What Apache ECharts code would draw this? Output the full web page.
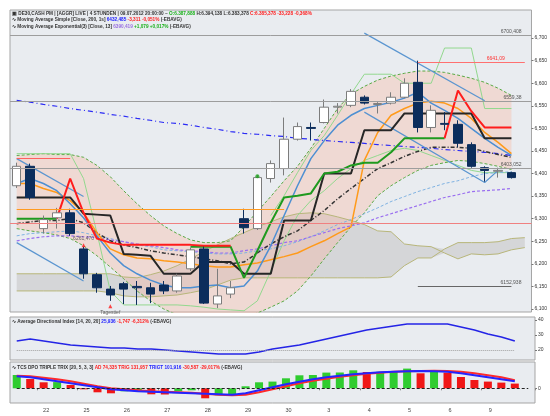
<!DOCTYPE html>
<html>
<head>
<meta charset="utf-8">
<script src="https://cdn.jsdelivr.net/npm/echarts@6.0.0/dist/echarts.min.js"></script>
<style>
html, body { margin: 0; padding: 0; background: #fff; }
#main { width: 550px; height: 416px; }
</style>
</head>
<body>
<div id="main"></div>
<script>
// candles (3 per trading day)
var opens  = [6373,6416,6278,6302,6313,6233,6176,6144,6156,6150,6147,6153,6140,6189,6233,6111,6133,6300,6278,6389,6411,6476,6502,6513,6547,6551,6569,6553,6556,6569,6602,6502,6511,6509,6464,6413,6405,6402];
var closes = [6416,6347,6298,6313,6267,6178,6147,6131,6144,6147,6133,6140,6173,6231,6113,6129,6147,6280,6391,6422,6476,6504,6500,6547,6549,6582,6556,6555,6569,6600,6502,6540,6509,6467,6416,6407,6407,6391];
var lows   = [6368,6342,6267,6278,6262,6167,6136,6118,6111,6109,6113,6133,6136,6184,6111,6102,6124,6267,6275,6380,6396,6473,6473,6511,6533,6547,6553,6533,6553,6567,6491,6491,6496,6458,6413,6382,6391,6389];
var highs  = [6424,6422,6307,6324,6322,6238,6180,6151,6160,6162,6158,6162,6178,6236,6238,6189,6162,6322,6396,6429,6524,6513,6513,6564,6556,6587,6573,6558,6580,6611,6650,6551,6536,6518,6469,6416,6413,6404];

// day labels under the bottom panel
var dayTicks = ['22','25','26','27','28','29','30','3','4','5','6','9'];
var priceTicks = [6100,6150,6200,6250,6300,6350,6400,6450,6500,6550,6600,6650,6700];

// envelope (pink band)
var bandUpper = [6440,6442,6444,6442,6442,6436,6418,6393,6362,6333,6307,6284,6267,6253,6247,6247,6251,6282,6316,6349,6384,6416,6456,6500,6544,6576,6593,6607,6616,6622,6627,6627,6624,6618,6611,6602,6589,6573];
var bandLower = [6278,6273,6269,6264,6256,6240,6218,6193,6167,6140,6118,6100,6087,6078,6073,6073,6078,6082,6091,6104,6118,6140,6173,6211,6247,6282,6313,6351,6373,6391,6407,6418,6424,6429,6427,6422,6416,6409];

// cloud, drawn 1 slot past the last candle
var cloudA = [6178,6178,6178,6178,6178,6178,6178,6178,6171,6169,6176,6184,6196,6211,6227,6242,6256,6269,6282,6293,6304,6311,6313,6311,6304,6296,6287,6273,6271,6244,6240,6238,6224,6211,6222,6220,6222,6231,6236];
var cloudB = [6140,6140,6140,6140,6140,6140,6140,6136,6129,6127,6127,6129,6131,6136,6142,6153,6164,6169,6169,6169,6169,6169,6169,6169,6169,6169,6169,6169,6171,6196,6213,6213,6233,6247,6247,6247,6249,6256,6258];

// indicator lines
var stopRed   = [null,null,null,6300,6389,6313,6256,6247,6242,6242,6242,6242,6242,6242,6240,6240,6240,null,null,null,null,null,null,null,null,null,null,null,null,null,null,null,6478,6584,6538,6502,6502,6502];
var stopGreen = [6300,6300,6300,6300,null,null,null,null,null,null,null,null,null,6238,6238,6238,6238,6169,6229,6291,6347,6351,6356,6400,6404,6418,6424,6424,6447,6478,6478,6478,6478,null,null,null,null,null];
var midBlack  = [6347,6347,6347,6347,6347,6311,6309,6307,6222,6220,6218,6178,6178,6178,6204,6204,6204,6178,6178,6178,6296,6296,6296,6400,6400,6400,6496,6496,6496,6533,6533,6533,6533,6533,6533,6478,6478,6478];
var maBlue    = [6378,6389,6378,6362,6333,6302,6262,6224,6196,6178,6164,6153,6147,6147,6151,6153,6147,6151,6184,6240,6307,6373,6433,6473,6507,6529,6544,6551,6558,6567,6580,6556,6540,6522,6500,6478,6458,6440];
var maOrange  = [6378,6378,6367,6358,6340,6313,6269,6233,6220,6213,6211,6207,6204,6200,6196,6193,6193,6198,6202,6209,6216,6224,6238,6251,6267,6282,6429,6491,6529,6544,6556,6560,6556,6544,6522,6491,6469,6444];
var maDashDot = [6289,6293,6296,6296,6300,6291,6269,6251,6242,6236,6229,6224,6220,6216,6211,6207,6200,6204,6224,6244,6260,6273,6296,6318,6344,6367,6389,6411,6424,6438,6449,6458,6458,6458,6456,6449,6442,6436];
var sma200    = [6562,6558,6553,6549,6544,6540,6536,6531,6527,6522,6518,6513,6511,6507,6502,6498,6493,6489,6487,6484,6482,6478,6476,6473,6471,6469,6467,6464,6462,6460,6458,6456,6453,6451,6449,6447,6444,6440];
var maLightBlue = [6262,6267,6269,6271,6273,6269,6262,6256,6249,6242,6238,6231,6229,6227,6224,6222,6222,6224,6229,6233,6240,6249,6260,6273,6287,6298,6311,6324,6338,6349,6360,6369,6378,6384,6393,6400,6402,6404];
var maPurple  = [6251,6256,6260,6262,6262,6260,6258,6253,6249,6244,6240,6236,6231,6229,6227,6224,6224,6229,6233,6240,6247,6251,6260,6269,6278,6284,6291,6302,6311,6320,6329,6338,6347,6353,6360,6362,6364,6367];
var chanLow   = [6444,6444,6444,6444,6444,6389,6269,6140,6109,6109,6109,6109,6109,6107,6104,6100,6098,6096,6118,6184,6251,6307,6340,6362,6389,6411,6429,6440,6451,6456,6451,6440,6429,6418,6407,6402,6402,6402];
var chanHigh  = [null,null,null,null,null,null,null,null,null,null,null,null,null,null,null,null,null,null,null,6307,6351,6402,6451,6484,6529,6576,6620,6620,6620,6600,6600,6600,6678,6678,6678,6544,6544,6544];

// trend lines [slot, price]
var trend1 = [[0,6247],[5,6162]];
var trend2 = [[0,6433],[5,6349]];
var trend3 = [[26,6711],[35,6561]];
var trend4 = [[26,6536],[35,6380],[36,6407]];

// ADX panel
var adx = [26,27.3,26,24.7,23.3,22.7,22,21.3,21.3,20.7,20.7,20,19.3,18.7,18,17.3,17.3,17.3,18.7,20.7,22,23.3,25.3,27.3,29.3,31.3,33.3,34.7,36,37.3,37.3,37.3,37.3,35.3,33.3,30.7,28.7,26];

// bottom oscillator panel
var histo  = [133,93,60,62,33,-10,-40,-50,-30,-20,-60,-62,-30,-20,-100,-70,-68,20,60,67,100,130,133,157,158,180,163,165,173,197,150,167,157,113,83,67,57,47];
var sigBlue = [120,110,90,70,50,30,10,-10,-20,-30,-35,-40,-45,-50,-55,-60,-65,-50,-20,10,40,65,90,110,125,140,150,160,165,170,173,170,165,150,130,110,90,70];
var sigRed  = [125,120,105,90,70,45,20,0,-10,-20,-30,-35,-40,-45,-55,-65,-70,-65,-40,-10,20,50,75,95,115,130,145,155,165,170,173,175,173,165,150,130,110,80];

var nSlots = 39;
var cats = [];
for (var i = 0; i < nSlots; i++) cats.push('c' + i);

var ohlc = opens.map(function (o, i) { return [o, closes[i], lows[i], highs[i]]; });
var cloudBase = cloudA.map(function (a, i) { return Math.min(a, cloudB[i]); });
var cloudDiff = cloudA.map(function (a, i) { return Math.abs(a - cloudB[i]); });
var bandDiff = bandUpper.map(function (u, i) { return u - bandLower[i]; });
var histoItems = histo.map(function (v, i) {
    var up = i === 0 || v >= histo[i - 1];
    return { value: v, itemStyle: { color: up ? '#2fcc2f' : '#f01616' } };
});

var FONT = 'Liberation Sans';
var HS = 4.7; // header font size

function ln(data, color, width, dash, z, xi) {
    return {
        type: 'line', data: data, xAxisIndex: xi || 0, yAxisIndex: xi || 0,
        symbol: 'none', silent: true, z: z || 3,
        lineStyle: { color: color, width: width, type: dash || 'solid' }
    };
}

function thousands(v) {
    var r = String(v % 1000);
    while (r.length < 3) r = '0' + r;
    return Math.floor(v / 1000) + ',' + r;
}

function rich() {
    return {
        k: { fontSize: HS, fontFamily: FONT, color: '#333' },
        g: { fontSize: HS, fontFamily: FONT, color: '#19b019' },
        r: { fontSize: HS, fontFamily: FONT, color: '#ff2020' },
        b: { fontSize: HS, fontFamily: FONT, color: '#2020ff' },
        p: { fontSize: HS, fontFamily: FONT, color: '#9a70e0' }
    };
}

var gridStyle = { show: true, backgroundColor: '#e9ecf0', borderColor: '#a5a5a5', borderWidth: 1 };

var myChart = echarts.init(document.getElementById('main'));

var option = {
    animation: false,
    backgroundColor: '#ffffff',
    title: [
        { left: 12, top: 11, padding: 0, text: '{k|\u25A3 DE30,CASH PM | [AGGR] LIVE | 4 STUNDEN | 09.07.2012 20:00:00 ~ }{g|O:6.387,888 }{k|H:6.394,138 L:6.383,378 }{r|C:6.385,378 -33,228 -0,368%}', textStyle: { fontSize: HS, rich: rich() } },
        { left: 12, top: 17.5, padding: 0, text: '{k|\u223F Moving Average Simple [Close, 200, 1s] }{b|6432,485 }{r|-3,311 -0,051% }{k|(-EBAVG)}', textStyle: { fontSize: HS, rich: rich() } },
        { left: 12, top: 24, padding: 0, text: '{k|\u223F Moving Average Exponential(3) [Close, 13] }{p|6390,419 }{g|+1,079 +0,017% }{k|(-EBAVG)}', textStyle: { fontSize: HS, rich: rich() } },
        { left: 12, top: 319, padding: 0, text: '{k|\u223F Average Directional Index [14, 20, 20] }{b|25,936 }{r|-1,747 -6,312% }{k|(-EBAVG)}', textStyle: { fontSize: HS, rich: rich() } },
        { left: 12, top: 365, padding: 0, text: '{k|\u223F TCS DPO TRIPLE TRIX [20, 5, 3, 3] }{r|AD 74,335 TRIG 131,957 }{b|TRIGT 101,916 }{r|-30,587 -29,017% }{k|(-EBAVG)}', textStyle: { fontSize: HS, rich: rich() } }
    ],
    grid: [
        Object.assign({ left: 10, top: 10, width: 525, height: 302 }, gridStyle),
        Object.assign({ left: 10, top: 317, width: 525, height: 43 }, gridStyle),
        Object.assign({ left: 10, top: 362, width: 525, height: 41 }, gridStyle)
    ],
    xAxis: [0, 1, 2].map(function (g) {
        return {
            type: 'category', gridIndex: g, data: cats, boundaryGap: true,
            axisLine: { show: false }, splitLine: { show: false },
            axisTick: {
                show: g === 2, length: 2, lineStyle: { color: '#888' },
                interval: function (i) { return i % 3 === 2 && i < 36; }
            },
            axisLabel: {
                show: g === 2, fontSize: 5.5, fontFamily: FONT, color: '#444', margin: 4,
                padding: [0, 0, 0, 5],
                interval: function (i) { return i % 3 === 2 && i < 36; },
                formatter: function (v, i) { return dayTicks[(i - 2) / 3] || ''; }
            }
        };
    }),
    yAxis: [
        {
            type: 'value', gridIndex: 0, position: 'right', min: 6093.33, max: 6762.2,
            splitLine: { show: false }, axisLine: { show: false },
            axisTick: { show: true, length: 2, customValues: priceTicks, lineStyle: { color: '#777' } },
            axisLabel: { fontSize: 5, fontFamily: FONT, color: '#333', margin: 3, customValues: priceTicks, formatter: thousands }
        },
        {
            type: 'value', gridIndex: 1, position: 'right', min: 13.33, max: 42,
            splitLine: { show: false }, axisLine: { show: false },
            axisTick: { show: true, length: 2, customValues: [20, 30, 40], lineStyle: { color: '#777' } },
            axisLabel: { fontSize: 5, fontFamily: FONT, color: '#333', margin: 3, customValues: [20, 30, 40] }
        },
        {
            type: 'value', gridIndex: 2, position: 'right', min: -147, max: 263,
            splitLine: { show: false }, axisLine: { show: false },
            axisTick: { show: true, length: 2, customValues: [0], lineStyle: { color: '#777' } },
            axisLabel: { fontSize: 5, fontFamily: FONT, color: '#333', margin: 3, customValues: [0] }
        }
    ],
    series: [
        // cloud
        { type: 'line', data: cloudBase, stack: 'cloud', symbol: 'none', silent: true, z: 1, lineStyle: { opacity: 0 } },
        { type: 'line', data: cloudDiff, stack: 'cloud', symbol: 'none', silent: true, z: 1, lineStyle: { opacity: 0 }, areaStyle: { color: '#d5d6d8', opacity: 1 } },
        ln(cloudA, '#b8b67a', 1, 'solid', 1),
        ln(cloudB, '#b8b67a', 1, 'solid', 1),
        // pink envelope
        { type: 'line', data: bandLower, stack: 'band', symbol: 'none', silent: true, z: 1, lineStyle: { opacity: 0 } },
        { type: 'line', data: bandDiff, stack: 'band', symbol: 'none', silent: true, z: 1, lineStyle: { opacity: 0 }, areaStyle: { color: 'rgba(248,180,160,0.5)' } },
        ln(bandUpper, '#5aaa45', 1, [3, 2], 2),
        ln(bandLower, '#5aaa45', 1, [3, 2], 2),
        ln(chanLow, '#92d88e', 1, 'solid', 2),
        ln(chanHigh, '#92d88e', 1, 'solid', 2),
        // slow average and level lines
        Object.assign(ln(sma200, '#2b2bf5', 1.2, [5, 3, 1, 3], 3), {
            markLine: {
                silent: true, symbol: 'none', animation: false,
                label: { show: true, position: 'insideEndTop', fontSize: 5, fontFamily: FONT, color: '#555', distance: [10, 1] },
                lineStyle: { color: '#9d9d9d', width: 1, type: 'solid' },
                data: [
                    { yAxis: 6707, label: { formatter: '6700,408' } },
                    { yAxis: 6560, label: { formatter: '6559,38' } },
                    { yAxis: 6411, label: { formatter: '6403,052' } },
                    { yAxis: 6291, label: { show: false }, lineStyle: { color: '#f08080', width: 1 } },
                    [{ coord: [30, 6151], label: { formatter: '6152,938', distance: [-10, 1] }, lineStyle: { color: '#666' } }, { coord: [37, 6151] }],
                    [{ coord: [30, 6647], label: { formatter: '6641,09', color: '#ff3030', distance: [20, 1] }, lineStyle: { color: '#ff7070' } }, { coord: [38, 6647] }],
                    [{ coord: [0, 6322], label: { show: false }, lineStyle: { color: '#ff9a20' } }, { coord: [20, 6322] }],
                    [{ coord: [0, 6433], label: { show: false }, lineStyle: { color: '#ff6060' } }, { coord: [4, 6433] }]
                ]
            }
        }),
        ln(maLightBlue, '#7fb2e2', 1, [3, 2], 3),
        ln(maPurple, '#9a6ff0', 1.2, [3, 2], 3),
        ln(maDashDot, '#333333', 1.5, [4, 2, 1, 2], 3),
        ln(maOrange, '#ff9a1a', 1.5, 'solid', 3),
        ln(maBlue, '#4d8fd2', 1.5, 'solid', 3),
        ln(trend1, '#5a95d0', 1.2, 'solid', 3),
        ln(trend2, '#5a95d0', 1.2, 'solid', 3),
        ln(trend3, '#5a95d0', 1.2, 'solid', 3),
        ln(trend4, '#5a95d0', 1.2, 'solid', 3),
        ln(midBlack, '#262626', 2, 'solid', 3),
        ln(stopGreen, '#1f9a1f', 2, 'solid', 3),
        ln(stopRed, '#ff1c1c', 2, 'solid', 3),
        // candles
        {
            type: 'candlestick', data: ohlc, barWidth: 9, silent: true, z: 4,
            itemStyle: { color: '#ffffff', color0: '#0c2d5c', borderColor: '#7c7c7c', borderColor0: '#0c2d5c', borderWidth: 1 }
        },
        {
            type: 'scatter', symbol: 'triangle', symbolSize: 4, silent: true, z: 5,
            itemStyle: { color: '#ff1a1a' },
            label: { show: true, fontSize: 5, fontFamily: FONT, color: '#444', distance: 2 },
            data: [
                { value: [5, 6241], label: { position: 'top', formatter: '6261,470' } },
                { value: [7, 6106], label: { position: 'bottom', formatter: 'Tagestief' } }
            ]
        },
        {
            type: 'scatter', symbol: 'circle', symbolSize: 4, silent: true, z: 5,
            itemStyle: { color: '#1aa01a' }, data: [[18, 6394]]
        },
        // ADX panel
        Object.assign(ln(adx, '#2424e6', 1.5, 'solid', 3, 1), {
            markLine: {
                silent: true, symbol: 'none', label: { show: false },
                lineStyle: { color: '#a0a0a0', width: 1, type: 'dotted' },
                data: [[{ coord: [0, 20] }, { coord: [37, 20] }]]
            }
        }),
        // oscillator panel
        {
            type: 'bar', xAxisIndex: 2, yAxisIndex: 2, data: histoItems, barWidth: 8, silent: true, z: 2,
            markLine: {
                silent: true, symbol: 'none', label: { show: false },
                lineStyle: { color: '#222', width: 1, type: [3, 2] },
                data: [[{ coord: [0, 0] }, { coord: [38, 0] }]]
            }
        },
        ln(sigRed, '#ff2a2a', 2, 'solid', 3, 2),
        ln(sigBlue, '#2424ff', 2, 'solid', 3, 2)
    ]
};

myChart.setOption(option);
</script>
</body>
</html>
